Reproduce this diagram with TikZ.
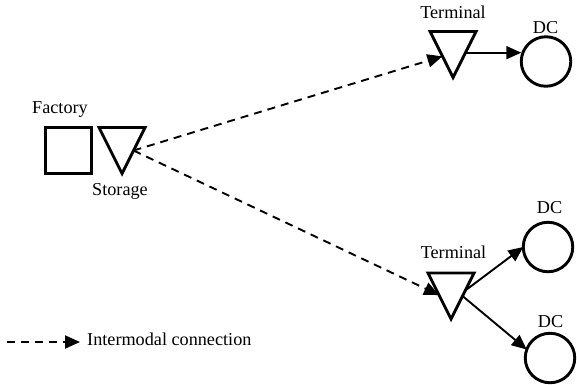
\documentclass[tikz,border=0pt]{standalone}
\usepackage{fontspec}
\setmainfont{Liberation Serif}
\usetikzlibrary{arrows.meta,calc}
\begin{document}
\begin{tikzpicture}[x=1pt,y=-1pt,
  shapeline/.style={line width=2.9pt,line join=miter},
  facility/.style={draw,shapeline,rectangle,minimum size=46pt,inner sep=0pt,outer sep=0pt},
  tribox/.style={rectangle,minimum width=46pt,minimum height=46pt,inner sep=0pt,outer sep=0pt},
  dcnode/.style={draw,shapeline,circle,minimum size=49.5pt,inner sep=0pt,outer sep=0pt},
  lbl/.style={anchor=base,inner sep=0pt,font=\fontsize{18.2}{21}\selectfont},
  flow/.style={line width=1.9pt,-{Triangle[length=15pt,width=13pt]}},
  intermodal/.style={flow,dash pattern=on 8pt off 6pt},
]
\useasboundingbox (0,0) rectangle (577,384);

% facilities
\node[facility] (factory) at (68.5,150.5) {};
\node[tribox] (storage) at (122,150.5) {};
\node[tribox] (term1) at (453,54.5) {};
\node[tribox] (term2) at (451,296) {};
\node[dcnode] (dc1) at (546,61.5) {};
\node[dcnode] (dc2) at (548,247) {};
\node[dcnode] (dc3) at (550,358) {};

% inverted triangles for storage and terminals
\foreach \t in {storage,term1,term2}
  \draw[shapeline] (\t.north west) -- (\t.north east) -- (\t.south) -- cycle;

% labels
\node[lbl] (lfactory) at (60,113) {Factory};
\node[lbl] (lstorage) at (120,195) {Storage};
\node[lbl] (lterm1) at (453,18.5) {Terminal};
\node[lbl] (ldc1) at (545.5,33) {DC};
\node[lbl] (lterm2) at (453.5,258) {Terminal};
\node[lbl] (ldc2) at (549.5,213) {DC};
\node[lbl] (ldc3) at (550.5,327) {DC};

% points on the triangle sides
\coordinate (st-out) at ($(storage.north east)!0.5!(storage.south)$);
\coordinate (t1-in) at ($(term1.north west)!0.54!(term1.south)$);
\coordinate (t1-out) at ($(term1.north east)!0.46!(term1.south)$);
\coordinate (t2-in) at ($(term2.north west)!0.48!(term2.south)$);
\coordinate (t2-outa) at ($(term2.north east)!0.38!(term2.south)$);
\coordinate (t2-outb) at ($(term2.north east)!0.5!(term2.south)$);

% intermodal connections
\draw[intermodal] (st-out) -- (t1-in);
\draw[intermodal] (st-out) -- (t2-in);

% deliveries to distribution centres
\draw[flow] (t1-out) -- (t1-out -| dc1.west);
\draw[flow] (t2-outa) -- (dc2.west);
\draw[flow] (t2-outb) -- (dc3.160);

% legend
\coordinate (leg-a) at (7,342);
\coordinate (leg-b) at (80,342);
\draw[intermodal] (leg-a) -- (leg-b);
\node[lbl,anchor=base west] (leg-text) at (87,345) {Intermodal connection};
\end{tikzpicture}
\end{document}
